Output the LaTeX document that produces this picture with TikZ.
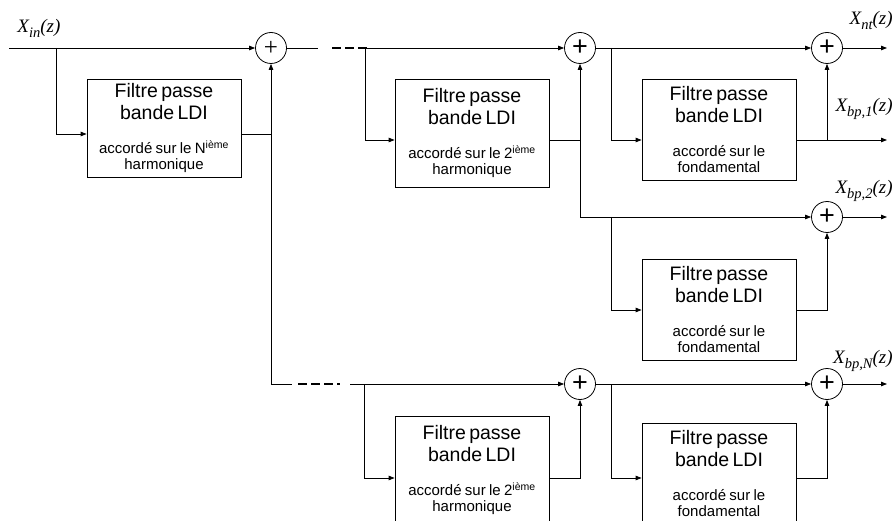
\documentclass[tikz,border=0pt]{standalone}
\usepackage{fontspec}
\setmainfont{Liberation Sans}
\newfontfamily\tnr{Liberation Serif}
\usetikzlibrary{arrows.meta}

\newcommand{\bigf}{\fontsize{19.5}{22}\selectfont}
\newcommand{\smallf}{\fontsize{15}{16}\selectfont}
\newcommand{\ftext}[2]{{\bigf Filtre passe\par bande LDI\par}\vspace{18pt}{\smallf #1\par #2\par}}
\newcommand{\sig}[1]{{\tnr\itshape\fontsize{19}{19}\selectfont X\raisebox{-5pt}{\fontsize{14.5}{14.5}\selectfont #1}(z)}}

\tikzset{
  filtre/.style={draw, text width=152pt, align=center, inner xsep=1pt, inner ysep=0pt, minimum height=#1},
  somme/.style={draw, circle, minimum size=31pt, inner sep=0pt, font=\fontsize{27}{27}\selectfont},
  arr/.style={-{Triangle[length=6pt,width=4.5pt]}},
  pointille/.style={line width=1.8pt, dash pattern=on 9pt off 4pt},
  lbl/.style={inner sep=0pt}
}

\begin{document}
\begin{tikzpicture}[x=1pt,y=-1pt,line width=0.8pt]
\useasboundingbox (0,0) rectangle (893,521);

% sommateurs
\node[somme, font=\tnr\fontsize{25}{25}\selectfont] (s1) at (271,48) {+};
\node[somme] (s2) at (580,48) {+};
\node[somme] (s3) at (827,48) {+};
\node[somme] (s4) at (827,217) {+};
\node[somme] (s5) at (580,384) {+};
\node[somme] (s6) at (827,384) {+};

% filtres
\node[filtre=98pt] (f1) at (164,128) {\ftext{accordé sur le N\textsuperscript{ième}}{harmonique}};
\node[filtre=108pt] (f2) at (472,133) {\ftext{accordé sur le 2\textsuperscript{ième}}{harmonique}};
\node[filtre=101pt] (f3) at (719,130) {\ftext{accordé sur le}{fondamental}};
\node[filtre=101pt] (f4) at (719,310) {\ftext{accordé sur le}{fondamental}};
\node[filtre=108pt] (f5) at (472,470) {\ftext{accordé sur le 2\textsuperscript{ième}}{harmonique}};
\node[filtre=101pt] (f6) at (719,474) {\ftext{accordé sur le}{fondamental}};

% points
\coordinate (in) at (9,48);
\coordinate (b1) at (56,48);
\coordinate (j1) at (271,134);
\coordinate (c1) at (271,384);
\coordinate (e1) at (318,48);
\coordinate (d1) at (332,48);
\coordinate (d2) at (369,48);
\coordinate (b2) at (365,48);
\coordinate (j2) at (580,140);
\coordinate (c2) at (580,217);
\coordinate (b3) at (611,48);
\coordinate (j3) at (827,140);
\coordinate (b4) at (611,217);
\coordinate (j4) at (827,310);
\coordinate (e2) at (292,384);
\coordinate (d3) at (298,384);
\coordinate (d4) at (340,384);
\coordinate (e3) at (350,384);
\coordinate (b5) at (364,384);
\coordinate (j5) at (580,478);
\coordinate (b6) at (611,384);
\coordinate (j6) at (827,478);
\coordinate (o0) at (887,48);
\coordinate (o1) at (887,140);
\coordinate (o2) at (887,217);
\coordinate (oN) at (887,384);

% branche N
\draw[arr] (in) -- (s1);
\draw[arr] (b1) |- (f1.west |- j1);
\draw (f1.east |- j1) -- (j1);
\draw[arr] (c1) -- (s1);
\draw (s1) -- (e1);
\draw[pointille] (d1) -- (d2);

% branche 2
\draw[arr] (b2) -- (s2);
\draw[arr] (b2) |- (f2.west |- j2);
\draw (f2.east |- j2) -- (j2);
\draw[arr] (c2) -- (s2);
\draw[arr] (c2) -- (s4);

% fondamental
\draw[arr] (s2) -- (s3);
\draw[arr] (b3) |- (f3.west |- j3);
\draw[arr] (f3.east |- j3) -- (o1);
\draw[arr] (j3) -- (s3);
\draw[arr] (s3) -- (o0);
\draw[arr] (b4) |- (f4.west |- j4);
\draw[arr] (f4.east |- j4) -| (s4);
\draw[arr] (s4) -- (o2);

% branche du bas
\draw (c1) -- (e2);
\draw[pointille] (d3) -- (d4);
\draw[arr] (e3) -- (s5);
\draw[arr] (b5) |- (f5.west |- j5);
\draw[arr] (f5.east |- j5) -| (s5);
\draw[arr] (s5) -- (s6);
\draw[arr] (b6) |- (f6.west |- j6);
\draw[arr] (f6.east |- j6) -| (s6);
\draw[arr] (s6) -- (oN);

% signaux
\node[lbl, anchor=base west] (xin) at (17,33) {\sig{in}};
\node[lbl, anchor=base east] (xnt) at (893,25) {\sig{nt}};
\node[lbl, anchor=base east] (xbp1) at (893,112) {\sig{bp,1}};
\node[lbl, anchor=base east] (xbp2) at (893,194) {\sig{bp,2}};
\node[lbl, anchor=base east] (xbpN) at (893,363) {\sig{bp,N}};
\end{tikzpicture}
\end{document}
